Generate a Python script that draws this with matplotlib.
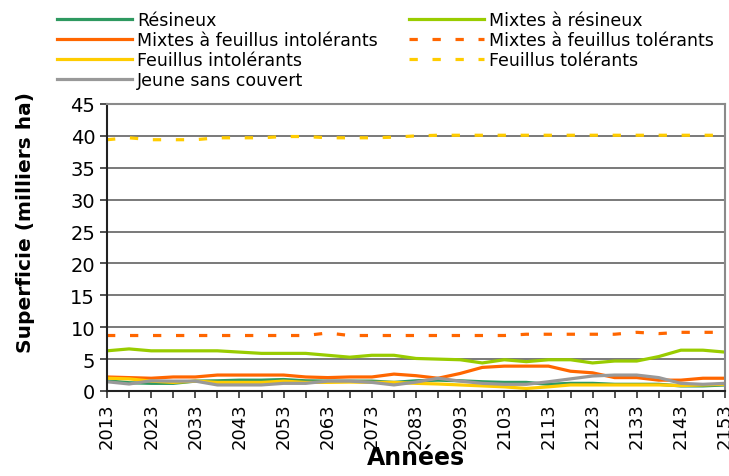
import numpy as np
import matplotlib.pyplot as plt

# DATA
annees = list(range(2013, 2154, 5))

resineux = [1.6, 1.3, 1.2, 1.2, 1.55, 1.6, 1.7, 1.7, 1.8, 1.6, 1.55, 1.55, 1.55, 1.35, 1.6,
            1.7, 1.6, 1.45, 1.35, 1.35, 1.05, 1.2, 1.2, 1.05, 1.05, 1.05, 0.8, 0.8, 0.95]
mixtes_resineux = [6.3, 6.6, 6.3, 6.3, 6.3, 6.3, 6.1, 5.9, 5.9, 5.9, 5.6, 5.3, 5.6, 5.6, 5.1,
                   5.0, 4.9, 4.4, 4.9, 4.6, 4.9, 4.9, 4.4, 4.7, 4.7, 5.4, 6.4, 6.4, 6.1]
mixtes_feuillus_intol = [2.2, 2.1, 2.0, 2.2, 2.2, 2.5, 2.5, 2.5, 2.5, 2.2, 2.1, 2.2, 2.2, 2.65, 2.4,
                         2.0, 2.75, 3.7, 3.9, 3.9, 3.9, 3.1, 2.85, 2.1, 2.1, 1.7, 1.7, 2.0, 2.0]
mixtes_feuillus_tol = [8.7, 8.7, 8.7, 8.7, 8.7, 8.7, 8.7, 8.7, 8.7, 8.7, 9.1, 8.7, 8.7, 8.7, 8.7,
                       8.7, 8.7, 8.7, 8.7, 8.9, 8.9, 8.9, 8.9, 8.9, 9.2, 9.0, 9.2, 9.2, 9.2]
feuillus_intol = [2.0, 1.9, 1.55, 1.35, 1.55, 1.35, 1.35, 1.35, 1.55, 1.35, 1.35, 1.4, 1.35, 1.35, 1.2,
                  1.1, 0.95, 0.8, 0.65, 0.4, 0.65, 0.95, 0.95, 0.95, 0.95, 0.95, 0.85, 0.95, 1.05]
feuillus_tol = [39.4, 39.7, 39.4, 39.4, 39.4, 39.7, 39.7, 39.7, 39.9, 39.9, 39.7, 39.7, 39.7, 39.8, 40.0,
                40.1, 40.1, 40.1, 40.1, 40.1, 40.1, 40.1, 40.1, 40.1, 40.1, 40.1, 40.1, 40.1, 40.1]
jeune = [1.45, 1.1, 1.6, 1.55, 1.55, 0.95, 0.95, 0.95, 1.2, 1.2, 1.55, 1.55, 1.35, 0.95, 1.4,
         2.0, 1.55, 1.2, 1.05, 1.05, 1.45, 1.9, 2.35, 2.5, 2.5, 2.1, 1.2, 1.05, 1.2]

plt.rcParams['font.family'] = ['DejaVu Sans']

fig = plt.figure(figsize=(7.29, 4.77), dpi=100)
ax = fig.add_axes([107/729, 1 - 392/477, (725 - 107)/729, (392 - 105)/477])

lw = 2.3
dash = (0, (2.6, 4.6))
l1, = ax.plot(annees, resineux, color='#2e9960', lw=lw, label='Résineux')
l2, = ax.plot(annees, mixtes_resineux, color='#99cc00', lw=lw, label='Mixtes à résineux')
l3, = ax.plot(annees, mixtes_feuillus_intol, color='#ff6600', lw=lw, label='Mixtes à feuillus intolérants')
l4, = ax.plot(annees, mixtes_feuillus_tol, color='#ff6600', lw=lw, linestyle=dash,
              label='Mixtes à feuillus tolérants')
l5, = ax.plot(annees, feuillus_intol, color='#ffcc00', lw=lw, label='Feuillus intolérants')
l6, = ax.plot(annees, feuillus_tol, color='#ffcc00', lw=lw, linestyle=dash, label='Feuillus tolérants')
l7, = ax.plot(annees, jeune, color='#999999', lw=lw, label='Jeune sans couvert')

# Axes
ax.set_xlim(2013, 2153)
ax.set_ylim(0, 45)
ax.set_yticks(np.arange(0, 46, 5))
ax.set_xticks(annees)
ax.set_xticklabels([str(a) if (a - 2013) % 10 == 0 else '' for a in annees], rotation=90)
ax.tick_params(axis='y', labelsize=14, direction='out', length=5, width=1.2, color='#333333')
ax.tick_params(axis='x', labelsize=13, direction='out', length=5, width=1.2, color='#333333', pad=3)
ax.yaxis.grid(True, color='#6e6e6e', lw=1.3)
ax.set_axisbelow(True)

for s in ['left', 'bottom']:
    ax.spines[s].set_color('#222222')
    ax.spines[s].set_linewidth(1.5)
for s in ['top', 'right']:
    ax.spines[s].set_color('#8a8a8a')
    ax.spines[s].set_linewidth(1.5)

ax.set_ylabel('Superficie (milliers ha)', fontsize=14.5, fontweight='bold')
ax.yaxis.set_label_coords(-0.1165, 0.592)
ax.set_xlabel('Années', fontsize=17, fontweight='bold', labelpad=-2)

# Legend (column order: left col first)
handles = [l1, l3, l5, l7, l2, l4, l6]
fig.legend(handles=handles, labels=[h.get_label() for h in handles],
           loc='upper left', bbox_to_anchor=(57/729, 1 - 12/477), ncol=2,
           frameon=False, fontsize=12.5, handlelength=4.3, handletextpad=0.3,
           columnspacing=1.8, labelspacing=0.12, borderpad=0, borderaxespad=0)

fig.savefig('out.png', dpi=100)
